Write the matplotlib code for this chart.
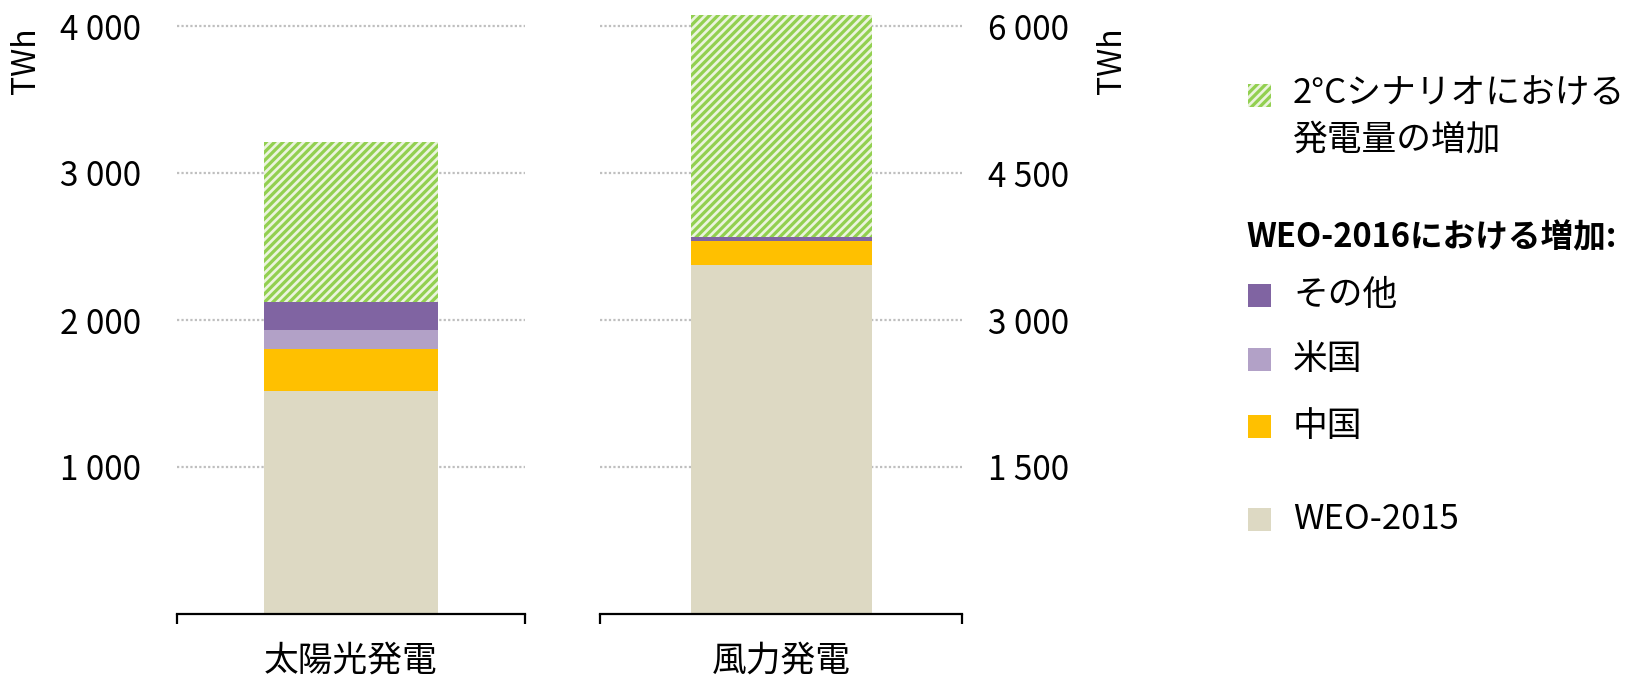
import matplotlib
matplotlib.use("Agg")
import matplotlib.pyplot as plt
from matplotlib.patches import Rectangle
from matplotlib.ticker import FuncFormatter

plt.rcParams['font.family'] = ['Noto Sans CJK JP', 'DejaVu Sans']
plt.rcParams['hatch.linewidth'] = 2.3

# 発電量の増加 (TWh)
categories = ['太陽光発電', '風力発電']
weo2015 = [1520, 3560]
china = [280, 245]
us = [135, 0]
other = [185, 45]
scenario_2c = [1090, 2260]

ticks_left = [1000, 2000, 3000, 4000]
ticks_right = [1500, 3000, 4500, 6000]

c_weo = '#DDD9C3'
c_china = '#FFC000'
c_us = '#B2A1C7'
c_other = '#8064A2'
c_hatch = '#92D050'
c_hatch_bg = '#EBF4DD'
c_grid = '#BFBFBF'

W, H = 1639, 680
fig = plt.figure(figsize=(W / 100, H / 100), dpi=100)

def px_axes(x0, x1, y_bottom, height_px):
    return fig.add_axes([x0 / W, (H - y_bottom) / H, (x1 - x0) / W, height_px / H])

thousands = FuncFormatter(lambda v, p: f"{v:,.0f}".replace(",", " "))

def draw_panel(ax, i, ymax, ticks, side):
    segs = [(weo2015[i], c_weo), (china[i], c_china), (us[i], c_us), (other[i], c_other)]
    bottom = 0
    for val, col in segs:
        ax.bar(0, val, bottom=bottom, width=0.5, color=col, linewidth=0)
        bottom += val
    ax.bar(0, scenario_2c[i], bottom=bottom, width=0.5, facecolor=c_hatch_bg,
           edgecolor=c_hatch, hatch='////', linewidth=0)

    ax.set_xlim(-0.5, 0.5)
    ax.set_ylim(0, ymax)
    ax.set_yticks(ticks)
    ax.yaxis.set_major_formatter(thousands)
    ax.grid(axis='y', color=c_grid, linestyle=(0, (1, 1)), linewidth=1.6)
    ax.set_axisbelow(True)
    for s in ['top', 'left', 'right']:
        ax.spines[s].set_visible(False)
    ax.spines['bottom'].set_linewidth(1.6)

    if side == 'left':
        ax.tick_params(axis='y', length=0, pad=26, labelsize=24)
    else:
        ax.yaxis.tick_right()
        ax.tick_params(axis='y', length=0, pad=19, labelsize=24)

    # category label in the centre, end marks at both ends of the baseline
    ax.set_xticks([0], labels=[categories[i]])
    ax.tick_params(axis='x', which='major', length=0, pad=21, labelsize=25)
    ax.set_xticks([-0.5, 0.5], minor=True)
    ax.tick_params(axis='x', which='minor', length=7, width=1.6, direction='out')

# 0 at y=614 px, 0.147 px per TWh on the left panel
ax1 = px_axes(177, 525, 614, 4100 * 0.147)
draw_panel(ax1, 0, 4100, ticks_left, 'left')
ax2 = px_axes(600, 962, 614, 4100 * 0.147)
draw_panel(ax2, 1, 6150, ticks_right, 'right')

fig.text(26 / W, 1 - 27 / H, 'TWh', rotation=90, ha='center', va='top', fontsize=23)
fig.text(1112 / W, 1 - 27 / H, 'TWh', rotation=90, ha='center', va='top', fontsize=23)

# legend
lax = fig.add_axes([0, 0, 1, 1])
lax.set_xlim(0, W)
lax.set_ylim(H, 0)
lax.axis('off')

def key(yc, color, label):
    lax.add_patch(Rectangle((1248, yc - 11.5), 23, 23, facecolor=color, linewidth=0))
    lax.text(1293, yc, label, ha='left', va='center', fontsize=25)

lax.add_patch(Rectangle((1248, 84), 23, 23, facecolor=c_hatch_bg,
                        edgecolor=c_hatch, hatch='////', linewidth=0))
lax.text(1293, 93, '2°Cシナリオにおける', ha='left', va='center', fontsize=25)
lax.text(1293, 140, '発電量の増加', ha='left', va='center', fontsize=25)
lax.text(1246, 238, 'WEO-2016における増加:', ha='left', va='center', fontsize=23.5,
         fontweight='bold')
key(295.5, c_other, 'その他')
key(359.5, c_us, '米国')
key(426.5, c_china, '中国')
key(519.5, c_weo, 'WEO-2015')

fig.savefig('out.png', dpi=100)
